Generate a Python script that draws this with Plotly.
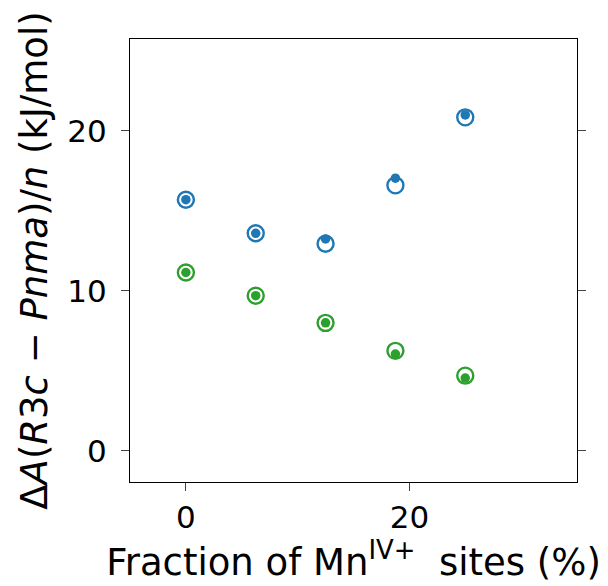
import plotly.graph_objects as go

x = [0, 6.25, 12.5, 18.75, 25]
blue_open = [15.7, 13.6, 12.95, 16.6, 20.85]
blue_filled = [15.7, 13.6, 13.25, 17.05, 21.0]
green_open = [11.15, 9.7, 8.0, 6.25, 4.7]
green_filled = [11.15, 9.7, 8.0, 6.05, 4.55]

BLUE = "#1f77b4"
GREEN = "#2ca02c"

fig = go.Figure()
for yo, yf, c in [(blue_open, blue_filled, BLUE), (green_open, green_filled, GREEN)]:
    fig.add_trace(go.Scatter(x=x, y=yo, mode="markers",
                             marker=dict(symbol="circle-open", size=16, color=c, line=dict(width=2.4, color=c))))
    fig.add_trace(go.Scatter(x=x, y=yf, mode="markers",
                             marker=dict(symbol="circle", size=9.5, color=c, line=dict(width=0))))

font = dict(family="DejaVu Sans", size=31, color="black")
fig.update_layout(
    width=608, height=586, showlegend=False,
    margin=dict(l=130, r=31, t=39, b=104),
    plot_bgcolor="white", paper_bgcolor="white", font=font,
)
fig.update_xaxes(range=[-5, 35], tickvals=[0, 20], ticks="outside", ticklen=8, tickwidth=1.3,
                 showline=True, linecolor="black", linewidth=1.3, mirror=True, showgrid=False, zeroline=False,
                 title=dict(text="Fraction of Mn<sup>IV+</sup>  sites (%)", standoff=14), tickfont=font)
fig.update_yaxes(range=[-1.95, 25.75], tickvals=[0, 10, 20], ticks="outside", ticklen=8, tickwidth=1.3,
                 ticklabelstandoff=8,
                 showline=True, linecolor="black", linewidth=1.3, mirror="ticks", showgrid=False, zeroline=False,
                 title=dict(text="Δ<i>A</i>(<i>R</i>3<i>c</i> − <i>Pnma</i>)/<i>n</i> (kJ/mol)", standoff=8),
                 tickfont=font)
fig.write_html("out.html")
